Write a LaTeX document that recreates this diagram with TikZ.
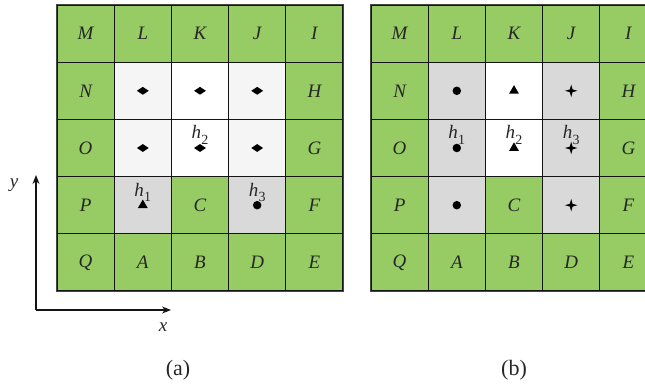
\documentclass[tikz,border=0pt]{standalone}
\usepackage{fontspec}
\setmainfont{Liberation Serif}
\usetikzlibrary{shapes.geometric,arrows.meta}
\definecolor{cgreen}{RGB}{151,204,100}
\definecolor{cgray}{RGB}{217,217,217}
\definecolor{cclear}{RGB}{244,245,244}
\definecolor{cline}{RGB}{20,20,20}
\definecolor{cborder}{RGB}{70,70,70}
\newcommand\hsub[1]{\textit{h}\kern0.3pt\raisebox{-0.3em}{\fontsize{14}{14}\selectfont #1}}
\tikzset{
  x=1pt,y=-1pt,
  cell/.style={rectangle,draw=cline,line width=1.2pt,minimum size=57.2pt,inner sep=0pt,
    font=\fontsize{19}{22}\selectfont\itshape,text=black!85},
  gcell/.style={cell,fill=cgreen},
  ycell/.style={cell,fill=cgray},
  lcell/.style={cell,fill=cclear},
  wcell/.style={cell,fill=white},
  frame/.style={draw=cborder,line width=1.6pt},
  mdia/.style={diamond,fill=black,inner sep=0pt,minimum width=12pt,minimum height=8pt},
  mtri/.style={isosceles triangle,isosceles triangle apex angle=60,shape border rotate=90,fill=black,inner sep=0pt,minimum height=8.5pt,minimum width=9.5pt},
  mcirc/.style={circle,fill=black,inner sep=0pt,minimum size=8.5pt},
  mstar/.style={star,star points=4,star point ratio=3.2,fill=black,inner sep=0pt,minimum size=12.5pt},
  hlab/.style={anchor=base,inner sep=0pt,font=\fontsize{19}{22}\selectfont,text=black!85},
  axis/.style={draw=cline,line width=1.1pt,-{Stealth[length=9pt,width=7pt]}},
  txt/.style={font=\fontsize{19}{22}\selectfont\itshape,inner sep=0pt,text=black!85},
  captxt/.style={font=\fontsize{22}{26}\selectfont,inner sep=0pt,text=black!85}
}
\newcommand\mkcell[6]{\node[#5] (#1) at ({#2+(#3+0.5)*57.2},{5+(#4+0.5)*57.2}) {#6};}
\begin{document}
\begin{tikzpicture}
\useasboundingbox (0,0) rectangle (645,387);
\clip (0,0) rectangle (645,387);
% ---------- panel (a)
\mkcell{aM}{57}{0}{0}{gcell}{M}
\mkcell{aL}{57}{1}{0}{gcell}{L}
\mkcell{aK}{57}{2}{0}{gcell}{K}
\mkcell{aJ}{57}{3}{0}{gcell}{J}
\mkcell{aI}{57}{4}{0}{gcell}{I}
\mkcell{aN}{57}{0}{1}{gcell}{N}
\mkcell{a11}{57}{1}{1}{lcell}{}
\mkcell{a21}{57}{2}{1}{wcell}{}
\mkcell{a31}{57}{3}{1}{lcell}{}
\mkcell{aH}{57}{4}{1}{gcell}{H}
\mkcell{aO}{57}{0}{2}{gcell}{O}
\mkcell{a12}{57}{1}{2}{lcell}{}
\mkcell{a22}{57}{2}{2}{wcell}{}
\mkcell{a32}{57}{3}{2}{lcell}{}
\mkcell{aG}{57}{4}{2}{gcell}{G}
\mkcell{aP}{57}{0}{3}{gcell}{P}
\mkcell{a13}{57}{1}{3}{ycell}{}
\mkcell{aC}{57}{2}{3}{gcell}{C}
\mkcell{a33}{57}{3}{3}{ycell}{}
\mkcell{aF}{57}{4}{3}{gcell}{F}
\mkcell{aQ}{57}{0}{4}{gcell}{Q}
\mkcell{aA}{57}{1}{4}{gcell}{A}
\mkcell{aB}{57}{2}{4}{gcell}{B}
\mkcell{aD}{57}{3}{4}{gcell}{D}
\mkcell{aE}{57}{4}{4}{gcell}{E}
\draw[frame] (aM.north west) rectangle (aE.south east);
\node[mdia] (am11) at (a11.center) {};
\node[mdia] (am21) at (a21.center) {};
\node[mdia] (am31) at (a31.center) {};
\node[mdia] (am12) at (a12.center) {};
\node[mdia] (am22) at (a22.center) {};
\node[mdia] (am32) at (a32.center) {};
\node[mtri] (am13) at (a13.center) {};
\node[mcirc] (am33) at (a33.center) {};
\node[hlab] (ah1) at ([yshift=9pt]a13.center) {\hsub{1}};
\node[hlab] (ah2) at ([yshift=9pt]a22.center) {\hsub{2}};
\node[hlab] (ah3) at ([yshift=9pt]a33.center) {\hsub{3}};
% axes
\coordinate (o) at (36,310);
\coordinate (ye) at (36,175);
\coordinate (xe) at (171,310);
\draw[axis] (o) -- (ye);
\draw[axis] (o) -- (xe);
\node[txt] (ylab) at (14,185) {y};
\node[txt] (xlab) at (163,327) {x};
\node[captxt] (capa) at (178,370) {(a)};
% ---------- panel (b)
\mkcell{bM}{371}{0}{0}{gcell}{M}
\mkcell{bL}{371}{1}{0}{gcell}{L}
\mkcell{bK}{371}{2}{0}{gcell}{K}
\mkcell{bJ}{371}{3}{0}{gcell}{J}
\mkcell{bI}{371}{4}{0}{gcell}{I}
\mkcell{bN}{371}{0}{1}{gcell}{N}
\mkcell{b11}{371}{1}{1}{ycell}{}
\mkcell{b21}{371}{2}{1}{wcell}{}
\mkcell{b31}{371}{3}{1}{ycell}{}
\mkcell{bH}{371}{4}{1}{gcell}{H}
\mkcell{bO}{371}{0}{2}{gcell}{O}
\mkcell{b12}{371}{1}{2}{ycell}{}
\mkcell{b22}{371}{2}{2}{wcell}{}
\mkcell{b32}{371}{3}{2}{ycell}{}
\mkcell{bG}{371}{4}{2}{gcell}{G}
\mkcell{bP}{371}{0}{3}{gcell}{P}
\mkcell{b13}{371}{1}{3}{ycell}{}
\mkcell{bC}{371}{2}{3}{gcell}{C}
\mkcell{b33}{371}{3}{3}{ycell}{}
\mkcell{bF}{371}{4}{3}{gcell}{F}
\mkcell{bQ}{371}{0}{4}{gcell}{Q}
\mkcell{bA}{371}{1}{4}{gcell}{A}
\mkcell{bB}{371}{2}{4}{gcell}{B}
\mkcell{bD}{371}{3}{4}{gcell}{D}
\mkcell{bE}{371}{4}{4}{gcell}{E}
\draw[frame] (bM.north west) rectangle (bE.south east);
\node[mcirc] (bm11) at (b11.center) {};
\node[mcirc] (bm12) at (b12.center) {};
\node[mcirc] (bm13) at (b13.center) {};
\node[mtri] (bm21) at (b21.center) {};
\node[mtri] (bm22) at (b22.center) {};
\node[mstar] (bm31) at (b31.center) {};
\node[mstar] (bm32) at (b32.center) {};
\node[mstar] (bm33) at (b33.center) {};
\node[hlab] (bh1) at ([yshift=9pt]b12.center) {\hsub{1}};
\node[hlab] (bh2) at ([yshift=9pt]b22.center) {\hsub{2}};
\node[hlab] (bh3) at ([yshift=9pt]b32.center) {\hsub{3}};
\node[captxt] (capb) at (514,370) {(b)};
\end{tikzpicture}
\end{document}
